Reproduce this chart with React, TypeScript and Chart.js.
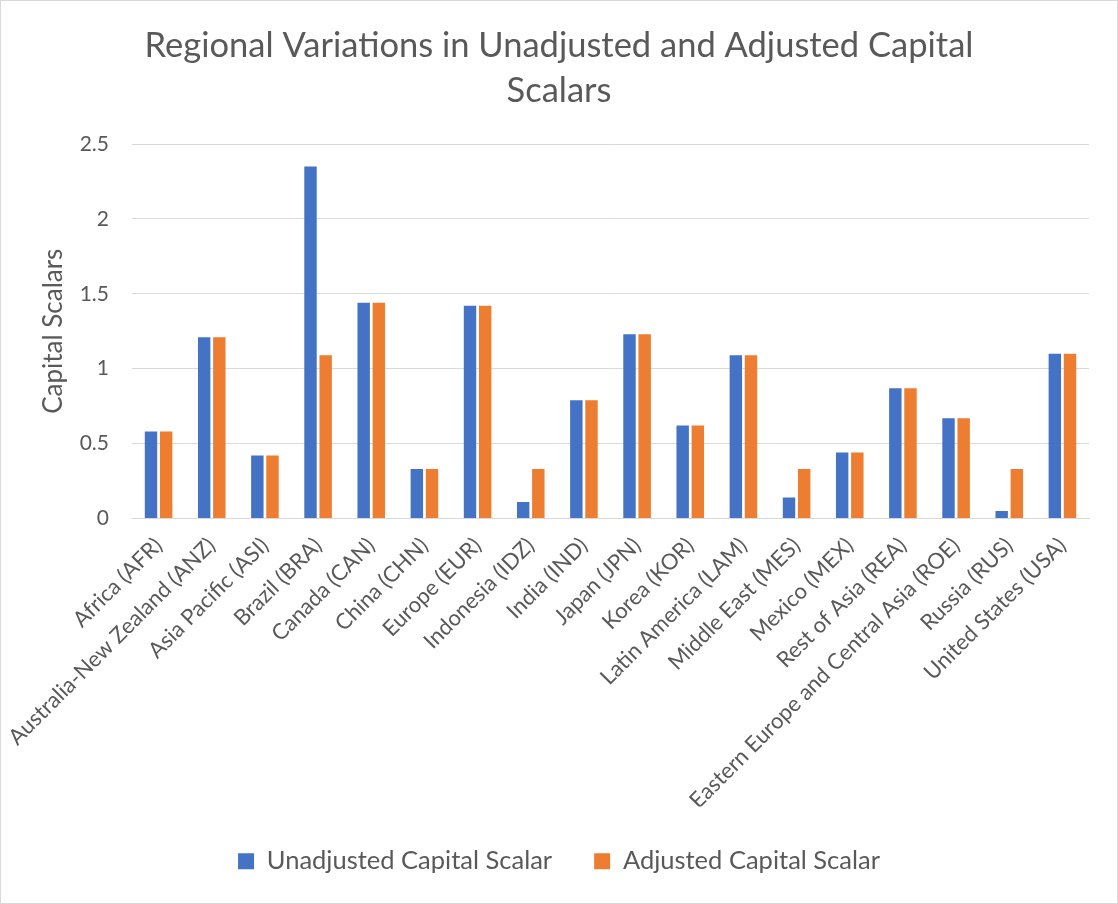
import React, { useEffect, useRef } from "react";
import { Chart, registerables } from "chart.js";

Chart.register(...registerables);

const categories: string[] = [
  "Africa (AFR)",
  "Australia-New Zealand (ANZ)",
  "Asia Pacific (ASI)",
  "Brazil (BRA)",
  "Canada (CAN)",
  "China (CHN)",
  "Europe (EUR)",
  "Indonesia (IDZ)",
  "India (IND)",
  "Japan (JPN)",
  "Korea (KOR)",
  "Latin America (LAM)",
  "Middle East (MES)",
  "Mexico (MEX)",
  "Rest of Asia (REA)",
  "Eastern Europe and Central Asia (ROE)",
  "Russia (RUS)",
  "United States (USA)",
];

const unadjusted: number[] = [
  0.58, 1.21, 0.42, 2.35, 1.44, 0.33, 1.42, 0.11, 0.79, 1.23, 0.62, 1.09, 0.14, 0.44, 0.87, 0.67, 0.05, 1.1,
];

const adjusted: number[] = [
  0.58, 1.21, 0.42, 1.09, 1.44, 0.33, 1.42, 0.33, 0.79, 1.23, 0.62, 1.09, 0.33, 0.44, 0.87, 0.67, 0.33, 1.1,
];

const seriesNames: string[] = ["Unadjusted Capital Scalar", "Adjusted Capital Scalar"];
const titleLines: string[] = ["Regional Variations in Unadjusted and Adjusted Capital", "Scalars"];
const yAxisTitle = "Capital Scalars";

const FONT = "Lato, 'Noto Sans', sans-serif";
const TEXT = "#595959";
const GRID = "#d9d9d9";

export default function App() {
  const ref = useRef<HTMLCanvasElement | null>(null);

  useEffect(() => {
    document.body.style.margin = "0";
    if (!ref.current) return;
    const chart = new Chart(ref.current, {
      type: "bar",
      data: {
        labels: categories,
        datasets: [
          {
            label: seriesNames[0],
            data: unadjusted,
            backgroundColor: "#4472C4",
            categoryPercentage: 0.57,
            barPercentage: 0.82,
            yAxisID: "y",
          },
          {
            label: seriesNames[1],
            data: adjusted,
            backgroundColor: "#ED7D31",
            categoryPercentage: 0.57,
            barPercentage: 0.82,
            yAxisID: "y",
          },
        ],
      },
      options: {
        animation: false,
        responsive: false,
        maintainAspectRatio: false,
        layout: { padding: { left: 0, right: 0, top: 0, bottom: 19 } },
        plugins: {
          title: {
            display: true,
            text: titleLines,
            color: TEXT,
            font: { family: FONT, size: 34.5, weight: "normal", lineHeight: 45 / 34.5 },
            padding: { top: 22, bottom: 31 },
          },
          legend: {
            position: "bottom",
            labels: {
              color: TEXT,
              font: { family: FONT, size: 25.5 },
              boxWidth: 16,
              boxHeight: 16,
              padding: 42,
            },
          },
          tooltip: { enabled: false },
        },
        scales: {
          x: {
            grid: { display: false },
            border: { color: GRID, width: 1 },
            ticks: {
              color: TEXT,
              font: { family: FONT, size: 22 },
              minRotation: 45,
              maxRotation: 45,
              autoSkip: false,
              padding: 6,
            },
            afterFit: (scale: any) => {
              scale.height = 288;
            },
          },
          y: {
            min: 0,
            max: 2.5,
            ticks: {
              stepSize: 0.5,
              color: TEXT,
              font: { family: FONT, size: 21 },
              padding: 23,
              callback: (v: any) => String(Math.round(Number(v) * 10) / 10),
            },
            grid: { color: GRID, lineWidth: 1, drawTicks: false },
            border: { display: false },
            title: {
              display: true,
              text: yAxisTitle,
              color: TEXT,
              font: { family: FONT, size: 26, lineHeight: 1.2 },
              padding: { top: 37, bottom: 0 },
            },
            afterFit: (scale: any) => {
              scale.width = 131;
            },
          },
          yRight: {
            type: "linear",
            position: "right",
            display: true,
            min: 0,
            max: 2.5,
            grid: { display: false, drawTicks: false },
            border: { display: false },
            ticks: { display: false },
            afterFit: (scale: any) => {
              scale.width = 28;
            },
          },
        },
      },
    });
    return () => chart.destroy();
  }, []);

  return (
    <div
      style={{
        position: "absolute",
        left: 0,
        top: 0,
        width: 1118,
        height: 904,
        border: "1px solid #d9d9d9",
        boxSizing: "border-box",
        background: "#fff",
      }}
    >
      <canvas ref={ref} width={1116} height={902} style={{ display: "block" }} />
    </div>
  );
}
